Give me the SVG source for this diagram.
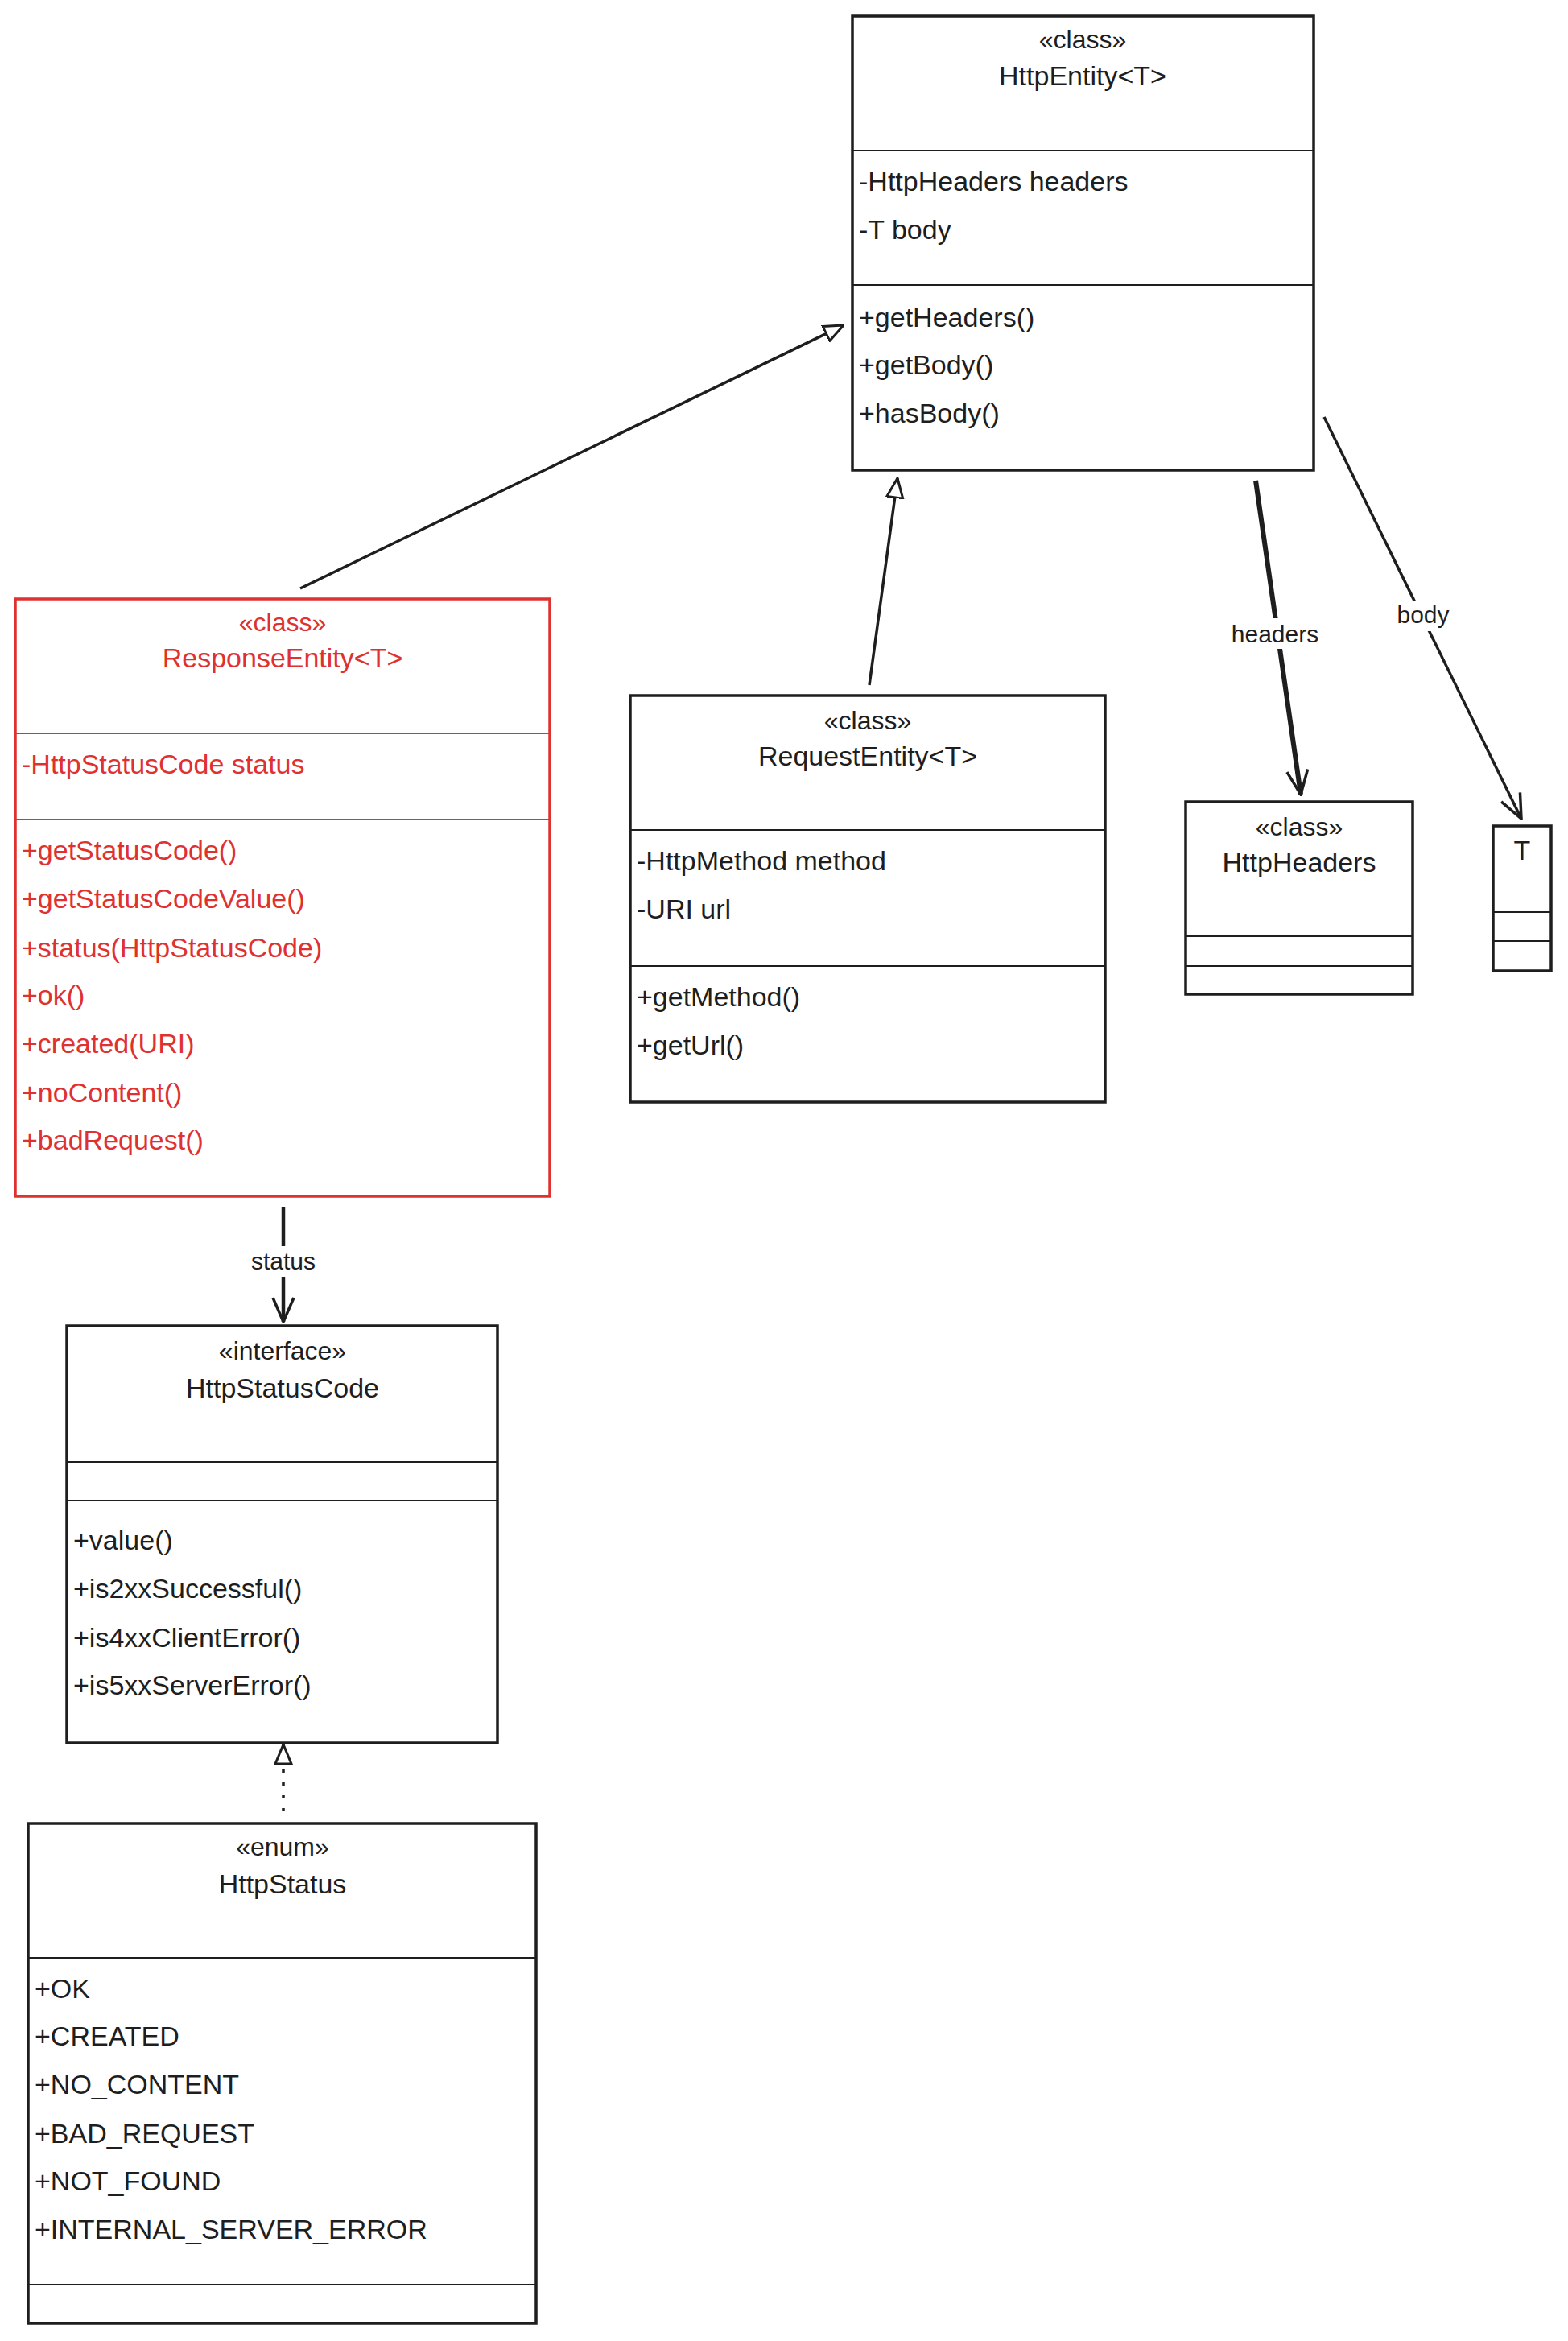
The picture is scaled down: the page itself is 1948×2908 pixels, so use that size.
<svg xmlns="http://www.w3.org/2000/svg" width="1948" height="2908" viewBox="0 0 1948 2908">
<style>
.box{fill:#fff;stroke:#1e1e1e;stroke-width:3.5}
.red .box{stroke:#e03131}
.div{stroke:#1e1e1e;stroke-width:2}
.red .div{stroke:#e03131}
text{font-family:"Liberation Sans",Arial,sans-serif;font-size:34px;fill:#1e1e1e}
.red text{fill:#e03131}
.c{text-anchor:middle}
.st{font-size:32px}
.lbl{font-size:30px;text-anchor:middle}
.e{stroke:#1e1e1e;stroke-width:3.5;fill:none}
</style>
<defs>
<marker id="tri" viewBox="0 0 26 26" refX="25" refY="13" markerWidth="26" markerHeight="26" markerUnits="userSpaceOnUse" orient="auto"><path d="M1,3 L25,13 L1,23 Z" fill="#fff" stroke="#1e1e1e" stroke-width="3"/></marker>
<marker id="open" viewBox="0 0 34 34" refX="32" refY="17" markerWidth="34" markerHeight="34" markerUnits="userSpaceOnUse" orient="auto"><path d="M2,4 L32,17 L2,30" fill="none" stroke="#1e1e1e" stroke-width="3.5"/></marker>
</defs>
<g id="connectors">
<line class="e" x1="373" y1="731" x2="1048" y2="404" marker-end="url(#tri)"/>
<line class="e" x1="1080" y1="851" x2="1115" y2="594" marker-end="url(#tri)"/>
<line class="e" x1="1560" y1="597" x2="1616" y2="987" style="stroke-width:6" marker-end="url(#open)"/>
<rect x="1524" y="768" width="120" height="38" fill="#fff"/>
<text class="lbl" x="1584" y="798">headers</text>
<line class="e" x1="1645" y1="518" x2="1890" y2="1017" marker-end="url(#open)"/>
<rect x="1730" y="746" width="76" height="38" fill="#fff"/>
<text class="lbl" x="1768" y="774">body</text>
<line class="e" x1="352" y1="1499" x2="352" y2="1642" style="stroke-width:4.5" marker-end="url(#open)"/>
<rect x="295" y="1548" width="114" height="38" fill="#fff"/>
<text class="lbl" x="352" y="1577">status</text>
<line class="e" x1="352" y1="2250" x2="352" y2="2167" stroke-dasharray="4 12" marker-end="url(#tri)"/>
</g>
<g id="HttpEntity">
<rect class="box" x="1059" y="20" width="573" height="564"/>
<line class="div" x1="1059" y1="187" x2="1632" y2="187"/>
<line class="div" x1="1059" y1="354" x2="1632" y2="354"/>
<text class="c st" x="1345" y="60">«class»</text>
<text class="c" x="1345" y="106">HttpEntity&lt;T&gt;</text>
<text x="1067" y="237">-HttpHeaders headers</text>
<text x="1067" y="297">-T body</text>
<text x="1067" y="406">+getHeaders()</text>
<text x="1067" y="465">+getBody()</text>
<text x="1067" y="525">+hasBody()</text>
</g>
<g id="ResponseEntity" class="red">
<rect class="box" x="19" y="744" width="664" height="742"/>
<line class="div" x1="19" y1="911" x2="683" y2="911"/>
<line class="div" x1="19" y1="1018" x2="683" y2="1018"/>
<text class="c st" x="351" y="784">«class»</text>
<text class="c" x="351" y="829">ResponseEntity&lt;T&gt;</text>
<text x="27" y="961">-HttpStatusCode status</text>
<text x="27" y="1068">+getStatusCode()</text>
<text x="27" y="1128">+getStatusCodeValue()</text>
<text x="27" y="1189">+status(HttpStatusCode)</text>
<text x="27" y="1248">+ok()</text>
<text x="27" y="1308">+created(URI)</text>
<text x="27" y="1369">+noContent()</text>
<text x="27" y="1428">+badRequest()</text>
</g>
<g id="RequestEntity">
<rect class="box" x="783" y="864" width="590" height="505"/>
<line class="div" x1="783" y1="1031" x2="1373" y2="1031"/>
<line class="div" x1="783" y1="1200" x2="1373" y2="1200"/>
<text class="c st" x="1078" y="906">«class»</text>
<text class="c" x="1078" y="951">RequestEntity&lt;T&gt;</text>
<text x="791" y="1081">-HttpMethod method</text>
<text x="791" y="1141">-URI url</text>
<text x="791" y="1250">+getMethod()</text>
<text x="791" y="1310">+getUrl()</text>
</g>
<g id="HttpHeaders">
<rect class="box" x="1473" y="996" width="282" height="239"/>
<line class="div" x1="1473" y1="1163" x2="1755" y2="1163"/>
<line class="div" x1="1473" y1="1200" x2="1755" y2="1200"/>
<text class="c st" x="1614" y="1038">«class»</text>
<text class="c" x="1614" y="1083">HttpHeaders</text>
</g>
<g id="T">
<rect class="box" x="1855" y="1026" width="72" height="180"/>
<line class="div" x1="1855" y1="1133" x2="1927" y2="1133"/>
<line class="div" x1="1855" y1="1169" x2="1927" y2="1169"/>
<text class="c" x="1891" y="1068">T</text>
</g>
<g id="HttpStatusCode">
<rect class="box" x="83" y="1647" width="535" height="518"/>
<line class="div" x1="83" y1="1816" x2="618" y2="1816"/>
<line class="div" x1="83" y1="1864" x2="618" y2="1864"/>
<text class="c st" x="351" y="1689">«interface»</text>
<text class="c" x="351" y="1736">HttpStatusCode</text>
<text x="91" y="1925">+value()</text>
<text x="91" y="1985">+is2xxSuccessful()</text>
<text x="91" y="2046">+is4xxClientError()</text>
<text x="91" y="2105">+is5xxServerError()</text>
</g>
<g id="HttpStatus">
<rect class="box" x="35" y="2265" width="631" height="621"/>
<line class="div" x1="35" y1="2432" x2="666" y2="2432"/>
<line class="div" x1="35" y1="2838" x2="666" y2="2838"/>
<text class="c st" x="351" y="2305">«enum»</text>
<text class="c" x="351" y="2352">HttpStatus</text>
<text x="43" y="2482">+OK</text>
<text x="43" y="2541">+CREATED</text>
<text x="43" y="2601">+NO_CONTENT</text>
<text x="43" y="2662">+BAD_REQUEST</text>
<text x="43" y="2721">+NOT_FOUND</text>
<text x="43" y="2781">+INTERNAL_SERVER_ERROR</text>
</g>
</svg>
